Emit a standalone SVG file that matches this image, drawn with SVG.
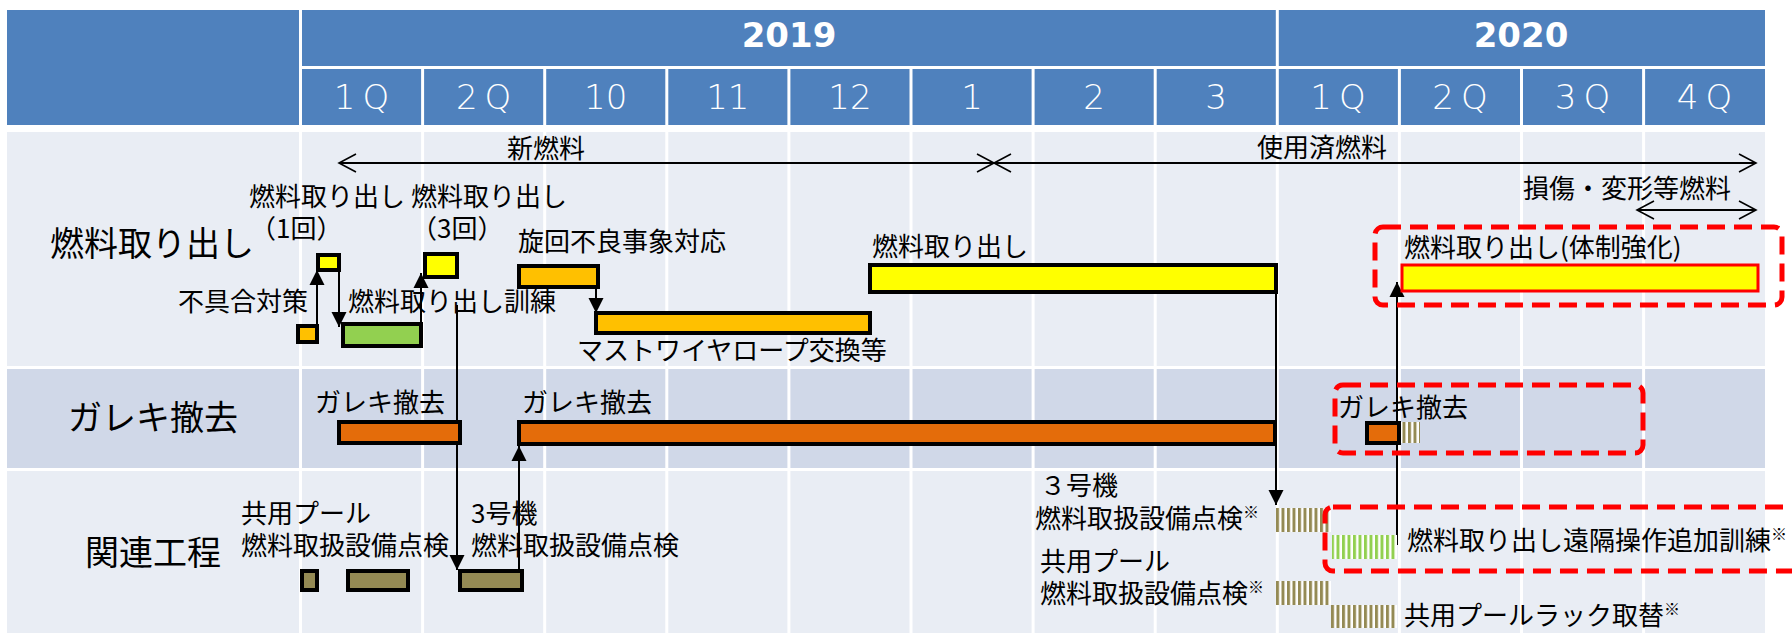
<svg xmlns="http://www.w3.org/2000/svg" width="1792" height="633" viewBox="0 0 1792 633">
<style>
.hd{fill:#4F81BD}
.yr{font-family:"DejaVu Sans",sans-serif;font-weight:bold;font-size:34px;fill:#fff;text-anchor:middle}
.qt{font-family:"DejaVu Sans",sans-serif;font-weight:200;font-size:34px;fill:#fff;text-anchor:middle}
.qs{letter-spacing:7px}
.gl{stroke:#fff;stroke-width:3}
.t{font-family:"Noto Sans CJK JP",sans-serif;font-size:26px;fill:#000}
.big{font-family:"Noto Sans CJK JP",sans-serif;font-size:34px;fill:#000}
.bar{stroke:#000;stroke-width:4}
.ye{fill:#FFFF00}
.am{fill:#FFC000}
.or{fill:#E46C0A}
.gr{fill:#92D050}
.ol{fill:#948A54}
.red{fill:none;stroke:#FF0000;stroke-width:5;stroke-dasharray:18 9}
.con{stroke:#000;stroke-width:2;fill:none}
.sup{font-size:16px}
</style>
<defs>
<marker id="ah" markerUnits="userSpaceOnUse" markerWidth="16" markerHeight="16" viewBox="0 0 16 16" refX="15" refY="8" orient="auto"><path d="M0,0.5 L15,8 L0,15.5 z" fill="#000"/></marker>
<marker id="oa" markerUnits="userSpaceOnUse" markerWidth="20" markerHeight="22" viewBox="0 0 20 22" refX="18" refY="11" orient="auto-start-reverse"><path d="M1,2 L18,11 L1,20" fill="none" stroke="#000" stroke-width="1.6"/></marker>
<pattern id="pOl" width="5.5" height="10" patternUnits="userSpaceOnUse"><rect width="5.5" height="10" fill="#fff"/><rect width="3" height="10" fill="#948A54"/></pattern>
<pattern id="pGr" width="5.5" height="10" patternUnits="userSpaceOnUse"><rect width="5.5" height="10" fill="#fff"/><rect width="3" height="10" fill="#92D050"/></pattern>
</defs>
<rect width="1792" height="633" fill="#fff"/>
<g id="header">
<rect class="hd" x="7" y="10" width="1758" height="115"/>
<line class="gl" x1="300.5" y1="10" x2="300.5" y2="125"/>
<line class="gl" x1="300" y1="67.5" x2="1766" y2="67.5"/>
<line class="gl" x1="1277.3" y1="10" x2="1277.3" y2="125"/>
<g class="gl">
<line x1="422.6" y1="67" x2="422.6" y2="125"/><line x1="544.7" y1="67" x2="544.7" y2="125"/><line x1="666.8" y1="67" x2="666.8" y2="125"/><line x1="788.9" y1="67" x2="788.9" y2="125"/><line x1="911" y1="67" x2="911" y2="125"/><line x1="1033.1" y1="67" x2="1033.1" y2="125"/><line x1="1155.2" y1="67" x2="1155.2" y2="125"/><line x1="1399.4" y1="67" x2="1399.4" y2="125"/><line x1="1521.5" y1="67" x2="1521.5" y2="125"/><line x1="1643.6" y1="67" x2="1643.6" y2="125"/>
</g>
<text class="yr" x="789" y="47">2019</text>
<text class="yr" x="1521" y="47">2020</text>
<text class="qt qs" x="365" y="109">1Q</text>
<text class="qt qs" x="487.1" y="109">2Q</text>
<text class="qt" x="605.7" y="109">10</text>
<text class="qt" x="727.8" y="109">11</text>
<text class="qt" x="850" y="109">12</text>
<text class="qt" x="972" y="109">1</text>
<text class="qt" x="1094" y="109">2</text>
<text class="qt" x="1216" y="109">3</text>
<text class="qt qs" x="1341.5" y="109">1Q</text>
<text class="qt qs" x="1463.5" y="109">2Q</text>
<text class="qt qs" x="1586" y="109">3Q</text>
<text class="qt qs" x="1708" y="109">4Q</text>
</g>
<g id="body-grid">
<rect x="7" y="132" width="1758" height="234" fill="#E9EDF4"/>
<rect x="7" y="369" width="1758" height="99" fill="#D0D8E8"/>
<rect x="7" y="471" width="1758" height="162" fill="#E9EDF4"/>
<g class="gl">
<line x1="300.5" y1="132" x2="300.5" y2="633"/><line x1="422.6" y1="132" x2="422.6" y2="633"/><line x1="544.7" y1="132" x2="544.7" y2="633"/><line x1="666.8" y1="132" x2="666.8" y2="633"/><line x1="788.9" y1="132" x2="788.9" y2="633"/><line x1="911" y1="132" x2="911" y2="633"/><line x1="1033.1" y1="132" x2="1033.1" y2="633"/><line x1="1155.2" y1="132" x2="1155.2" y2="633"/><line x1="1277.3" y1="132" x2="1277.3" y2="633"/><line x1="1399.4" y1="132" x2="1399.4" y2="633"/><line x1="1521.5" y1="132" x2="1521.5" y2="633"/><line x1="1643.6" y1="132" x2="1643.6" y2="633"/>
</g>
<text class="big" x="50" y="256">燃料取り出し</text>
<text class="big" x="68" y="430">ガレキ撤去</text>
<text class="big" x="85" y="565">関連工程</text>
</g>
<g id="phase-arrows">
<line class="con" x1="339" y1="163" x2="994" y2="163" marker-start="url(#oa)" marker-end="url(#oa)" stroke-width="1.6"/>
<text class="t" x="507" y="158">新燃料</text>
<line class="con" x1="994" y1="163" x2="1756" y2="163" marker-start="url(#oa)" marker-end="url(#oa)" stroke-width="1.6"/>
<text class="t" x="1257" y="157">使用済燃料</text>
<line class="con" x1="1637" y1="210" x2="1756" y2="210" marker-start="url(#oa)" marker-end="url(#oa)" stroke-width="1.6"/>
<text class="t" x="1523" y="198">損傷・変形等燃料</text>
</g>
<g id="connectors">
<line class="con" x1="317" y1="325" x2="317" y2="270" marker-end="url(#ah)"/>
<line class="con" x1="339" y1="270" x2="339" y2="327" marker-end="url(#ah)"/>
<line class="con" x1="421" y1="323" x2="421" y2="273" marker-end="url(#ah)"/>
<line class="con" x1="596" y1="287" x2="596" y2="313" marker-end="url(#ah)"/>
<line class="con" x1="457" y1="305" x2="457" y2="570" marker-end="url(#ah)"/>
<line class="con" x1="519" y1="570" x2="519" y2="446" marker-end="url(#ah)"/>
<line class="con" x1="1276" y1="292" x2="1276" y2="505" marker-end="url(#ah)"/>
<line class="con" x1="1397" y1="545" x2="1397" y2="282" marker-end="url(#ah)"/>
</g>
<g id="n-fuel1">
<text class="t" x="249" y="206">燃料取り出し</text>
<text class="t" x="250" y="238">（1回）</text>
<rect class="bar ye" x="318" y="255" width="21" height="15"/>
</g>
<g id="n-fuel3">
<text class="t" x="411" y="206">燃料取り出し</text>
<text class="t" x="411" y="238">（3回）</text>
<rect class="bar ye" x="425" y="254" width="32" height="23"/>
</g>
<g id="n-fix">
<text class="t" x="178" y="311">不具合対策</text>
<rect class="bar am" x="298" y="326" width="19" height="16"/>
</g>
<g id="n-train">
<text class="t" x="348" y="311">燃料取り出し訓練</text>
<rect class="bar gr" x="343" y="324" width="78" height="22"/>
</g>
<g id="n-rot">
<text class="t" x="518" y="251">旋回不良事象対応</text>
<rect class="bar am" x="519" y="266" width="79" height="21"/>
</g>
<g id="n-mast">
<rect class="bar am" x="596" y="313" width="274" height="20"/>
<text class="t" x="577" y="360">マストワイヤロープ交換等</text>
</g>
<g id="n-fuelmain">
<text class="t" x="872" y="256">燃料取り出し</text>
<rect class="bar ye" x="870" y="265" width="406" height="27"/>
</g>
<g id="n-fuel-strong">
<rect class="red" x="1375" y="227" width="407" height="78" rx="8"/>
<text class="t" x="1404" y="257">燃料取り出し(体制強化)</text>
<rect x="1402" y="265" width="356" height="26" fill="#FFFF00" stroke="#FF0000" stroke-width="3"/>
</g>
<g id="n-debris1">
<text class="t" x="315" y="412">ガレキ撤去</text>
<rect class="bar or" x="339" y="422" width="121" height="21"/>
</g>
<g id="n-debris2">
<text class="t" x="522" y="412">ガレキ撤去</text>
<rect class="bar or" x="519" y="422" width="756" height="22"/>
</g>
<g id="n-debris3">
<rect class="red" x="1335" y="385" width="308" height="68" rx="8"/>
<text class="t" x="1338" y="417">ガレキ撤去</text>
<rect x="1400" y="422" width="20" height="21" fill="url(#pOl)"/>
<rect class="bar or" x="1367" y="423" width="32" height="20"/>
</g>
<g id="n-pool1">
<text class="t" x="241" y="523">共用プール</text>
<text class="t" x="241" y="555">燃料取扱設備点検</text>
<rect class="bar ol" x="302" y="571" width="15" height="19"/>
<rect class="bar ol" x="348" y="571" width="60" height="19"/>
</g>
<g id="n-unit3">
<text class="t" x="471" y="523">3号機</text>
<text class="t" x="471" y="555">燃料取扱設備点検</text>
<rect class="bar ol" x="460" y="571" width="62" height="19"/>
</g>
<g id="n-unit3b">
<text class="t" x="1040" y="495">３号機</text>
<text class="t" x="1035" y="528">燃料取扱設備点検<tspan class="sup" dy="-10">※</tspan></text>
<rect x="1276" y="508" width="55" height="24" fill="url(#pOl)"/>
</g>
<g id="n-remote">
<rect class="red" x="1325" y="507" width="480" height="64" rx="8"/>
<rect x="1332" y="535" width="65" height="24" fill="url(#pGr)"/>
<text class="t" x="1407" y="550">燃料取り出し遠隔操作追加訓練<tspan class="sup" dy="-10">※</tspan></text>
</g>
<g id="n-pool2">
<text class="t" x="1040" y="571">共用プール</text>
<text class="t" x="1040" y="603">燃料取扱設備点検<tspan class="sup" dy="-10">※</tspan></text>
<rect x="1276" y="581" width="55" height="24" fill="url(#pOl)"/>
</g>
<g id="n-rack">
<rect x="1331" y="605" width="66" height="23" fill="url(#pOl)"/>
<text class="t" x="1404" y="625">共用プールラック取替<tspan class="sup" dy="-10">※</tspan></text>
</g>
</svg>
